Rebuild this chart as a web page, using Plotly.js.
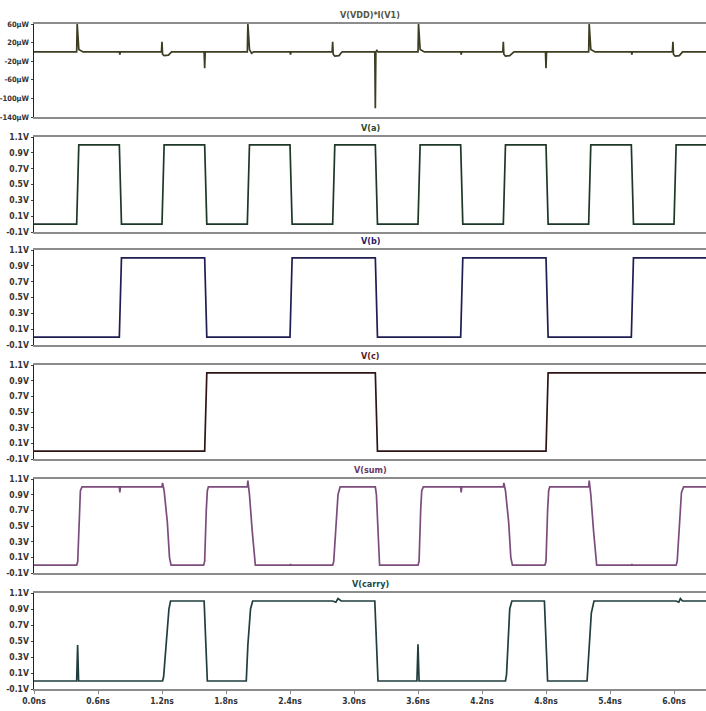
<!DOCTYPE html>
<html>
<head>
<meta charset="utf-8">
<script src="https://cdn.plot.ly/plotly-3.0.1.min.js"></script>
<style>html,body{margin:0;padding:0;background:#fff;}#chart{width:706px;height:711px;}</style>
</head>
<body>
<div id="chart"></div>
<script>
// ---------- DATA ----------
const panelTitles = ["V(VDD)*I(V1)", "V(a)", "V(b)", "V(c)", "V(sum)", "V(carry)"];

const xTickVals = [0, 0.6, 1.2, 1.8, 2.4, 3.0, 3.6, 4.2, 4.8, 5.4, 6.0];
const xTickText = ["0.0ns", "0.6ns", "1.2ns", "1.8ns", "2.4ns", "3.0ns", "3.6ns", "4.2ns", "4.8ns", "5.4ns", "6.0ns"];

const pTickVals = [60, 20, -20, -60, -100, -140];
const pTickText = ["60µW", "20µW", "-20µW", "-60µW", "-100µW", "-140µW"];
const vTickVals = [1.1, 0.9, 0.7, 0.5, 0.3, 0.1, -0.1];
const vTickText = ["1.1V", "0.9V", "0.7V", "0.5V", "0.3V", "0.1V", "-0.1V"];

// Power V(VDD)*I(V1) in µW, time in ns
const powerT = [0, 0.40, 0.405, 0.413, 0.42, 0.46,
  0.80, 0.805, 0.81,
  1.195, 1.20, 1.205, 1.22, 1.26, 1.28, 1.29,
  1.595, 1.60, 1.605,
  2.00, 2.005, 2.013, 2.02, 2.04, 2.06,
  2.40, 2.405, 2.41,
  2.795, 2.80, 2.805, 2.82, 2.86, 2.88, 2.89,
  3.195, 3.20, 3.205, 3.215, 3.225,
  3.60, 3.605, 3.613, 3.62, 3.66,
  4.00, 4.005, 4.01,
  4.395, 4.40, 4.405, 4.42, 4.46, 4.49, 4.50,
  4.795, 4.80, 4.805,
  5.195, 5.20, 5.205, 5.213, 5.22, 5.26,
  5.60, 5.605, 5.61,
  5.985, 5.99, 5.995, 6.01, 6.05, 6.07, 6.08,
  6.30];
const powerV = [0, 0, 60, 8, 5, 0,
  0, -6, 0,
  0, 22, -5, -8, -7, -2, 0,
  0, -35, 0,
  0, 60, 8, 5, -3, 0,
  0, -6, 0,
  0, 22, -5, -9, -8, -2, 0,
  0, -121, 0, 3, 0,
  0, 60, 8, 5, 0,
  0, -6, 0,
  0, 22, -5, -9, -8, -2, 0,
  0, -35, 0,
  0, 0, 60, 8, 5, 0,
  0, -6, 0,
  0, 22, -5, -9, -8, -2, 0,
  0];

// Input a (V)
const aT = [0, 0.40, 0.42, 0.80, 0.82, 1.20, 1.22, 1.60, 1.62, 2.00, 2.02, 2.40, 2.42, 2.80, 2.82, 3.20, 3.22,
  3.60, 3.62, 4.00, 4.02, 4.40, 4.42, 4.80, 4.82, 5.20, 5.22, 5.60, 5.62, 6.00, 6.02, 6.30];
const aV = [0, 0, 1, 1, 0, 0, 1, 1, 0, 0, 1, 1, 0, 0, 1, 1, 0, 0, 1, 1, 0, 0, 1, 1, 0, 0, 1, 1, 0, 0, 1, 1];

// Input b (V)
const bT = [0, 0.80, 0.82, 1.60, 1.62, 2.40, 2.42, 3.20, 3.22, 4.00, 4.02, 4.80, 4.82, 5.60, 5.62, 6.30];
const bV = [0, 0, 1, 1, 0, 0, 1, 1, 0, 0, 1, 1, 0, 0, 1, 1];

// Input c (V)
const cT = [0, 1.60, 1.62, 3.20, 3.22, 4.80, 4.82, 6.30];
const cV = [0, 0, 1, 1, 0, 0, 1, 1];

// Output sum (V)
const sumT = [0, 0.40, 0.41, 0.425, 0.435, 0.45,
  0.80, 0.805, 0.81,
  1.20, 1.205, 1.22, 1.25, 1.27, 1.285,
  1.59, 1.60, 1.615, 1.625, 1.635,
  2.00, 2.005, 2.02, 2.045, 2.065, 2.075,
  2.40, 2.405, 2.41,
  2.80, 2.81, 2.83, 2.85, 2.87,
  3.20, 3.21, 3.23, 3.24,
  3.60, 3.61, 3.625, 3.635, 3.65,
  4.00, 4.005, 4.01,
  4.40, 4.405, 4.42, 4.45, 4.47, 4.485,
  4.79, 4.80, 4.815, 4.825, 4.835,
  5.20, 5.205, 5.22, 5.245, 5.265, 5.275,
  5.60, 5.605, 5.61,
  6.02, 6.03, 6.05, 6.07, 6.09,
  6.30];
const sumV = [0, 0, 0.05, 0.7, 0.95, 1.0,
  1.0, 0.93, 1.0,
  1.0, 1.05, 0.95, 0.55, 0.1, 0,
  0, 0.05, 0.7, 0.95, 1.0,
  1.0, 1.08, 0.9, 0.45, 0.08, 0,
  0, 0.015, 0,
  0, 0.05, 0.5, 0.9, 1.0,
  1.0, 0.9, 0.15, 0,
  0, 0.05, 0.7, 0.95, 1.0,
  1.0, 0.93, 1.0,
  1.0, 1.05, 0.95, 0.55, 0.1, 0,
  0, 0.05, 0.7, 0.95, 1.0,
  1.0, 1.08, 0.9, 0.45, 0.08, 0,
  0, 0.015, 0,
  0, 0.05, 0.55, 0.93, 1.0,
  1.0];

// Output carry (V)
const carryT = [0, 0.40, 0.409, 0.418,
  1.205, 1.215, 1.265, 1.28,
  1.595, 1.61, 1.625,
  1.99, 2.005, 2.03, 2.05,
  2.80, 2.83, 2.85, 2.88,
  3.195, 3.21, 3.225,
  3.59, 3.60, 3.61,
  4.42, 4.43, 4.46, 4.48,
  4.785, 4.80, 4.815,
  5.185, 5.205, 5.225, 5.25,
  6.02, 6.045, 6.06, 6.08,
  6.30];
const carryV = [0, 0, 0.45, 0,
  0, 0.05, 0.9, 1.0,
  1.0, 0.5, 0,
  0, 0.45, 0.9, 1.0,
  1.0, 0.985, 1.03, 1.0,
  1.0, 0.5, 0,
  0, 0.46, 0,
  0, 0.08, 0.9, 1.0,
  1.0, 0.5, 0,
  0, 0.45, 0.85, 1.0,
  1.0, 0.985, 1.03, 1.0,
  1.0];

// ---------- STYLE / LAYOUT ----------
const traceColors = ["#3d3d22", "#1d3826", "#1e1e52", "#2e1414", "#7c4d7c", "#213d3d"];
const titleColors = ["#55553f", "#1f4a2c", "#1f2066", "#5a1818", "#6a3668", "#214848"];
const panelPx = [[24, 117], [137, 232], [250, 345], [365, 459], [479, 573], [593, 689]];
const H = 711;
const fontFam = "'DejaVu Sans Condensed', 'Liberation Sans Narrow', 'DejaVu Sans', sans-serif";
const tickFont = {family: fontFam, size: 8.5, color: '#333333', weight: 'bold', stretch: 'condensed'};
const pTickFont = {family: fontFam, size: 7.5, color: '#333333', weight: 'bold', stretch: 'condensed'};

const series = [[powerT, powerV], [aT, aV], [bT, bV], [cT, cV], [sumT, sumV], [carryT, carryV]];

const traces = series.map((s, i) => ({
  x: s[0], y: s[1], type: 'scatter', mode: 'lines',
  line: {color: traceColors[i], width: 1.7},
  xaxis: i === 0 ? 'x' : 'x' + (i + 1),
  yaxis: i === 0 ? 'y' : 'y' + (i + 1),
  hoverinfo: 'skip', showlegend: false
}));

const layout = {
  width: 706, height: 711,
  margin: {l: 34, r: 0, t: 0, b: 0},
  paper_bgcolor: '#ffffff', plot_bgcolor: '#ffffff',
  showlegend: false,
  annotations: []
};

panelPx.forEach((p, i) => {
  const xk = i === 0 ? 'xaxis' : 'xaxis' + (i + 1);
  const yk = i === 0 ? 'yaxis' : 'yaxis' + (i + 1);
  const ya = i === 0 ? 'y' : 'y' + (i + 1);
  const last = i === panelPx.length - 1;
  layout[xk] = {
    domain: [0, 1], range: [0, 6.3], anchor: ya,
    showline: true, mirror: true, linecolor: '#8c8c8c', linewidth: 2,
    showgrid: false, zeroline: false,
    tickvals: xTickVals, ticktext: xTickText,
    showticklabels: last, ticks: last ? 'outside' : '', ticklen: 3, tickcolor: '#8c8c8c',
    tickfont: tickFont,
    fixedrange: true
  };
  const isP = i === 0;
  layout[yk] = {
    domain: [(H - p[1]) / H, (H - p[0]) / H],
    range: isP ? [-140, 60] : [-0.1, 1.1],
    anchor: i === 0 ? 'x' : 'x' + (i + 1),
    showline: true, mirror: false, linecolor: '#222222', linewidth: 1.5,
    showgrid: false, zeroline: false,
    tickvals: isP ? pTickVals : vTickVals, ticktext: isP ? pTickText : vTickText,
    ticks: 'outside', ticklen: 2, tickcolor: '#444444',
    tickfont: isP ? pTickFont : tickFont,
    fixedrange: true
  };
  layout.annotations.push({
    text: panelTitles[i], xref: 'paper', yref: 'paper',
    x: 0.5, y: (H - p[0]) / H, xanchor: 'center', yanchor: 'bottom', yshift: 2,
    showarrow: false,
    font: {family: fontFam, size: 9, color: titleColors[i], weight: 'bold', stretch: 'condensed'}
  });
});

Plotly.newPlot('chart', traces, layout, {displayModeBar: false, staticPlot: true});
</script>
</body>
</html>
